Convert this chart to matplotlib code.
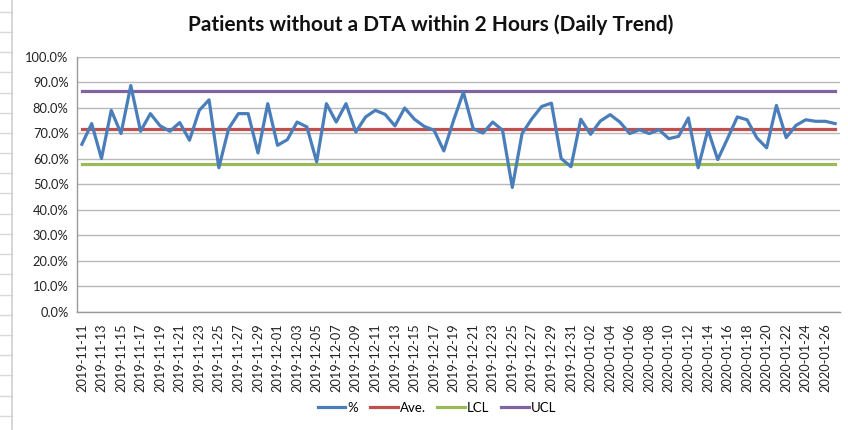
import matplotlib
matplotlib.use("Agg")
import matplotlib.pyplot as plt
from matplotlib.lines import Line2D
import pandas as pd
import numpy as np

dates = pd.date_range("2019-11-11", "2020-01-27", freq="D").strftime("%Y-%m-%d").tolist()
pct = [65.7, 73.8, 60.1, 79.0, 69.9, 88.7, 70.8, 77.7, 72.9, 70.8,
       74.2, 67.3, 79.0, 83.1, 56.5, 71.8, 77.7, 77.7, 62.3, 81.6,
       65.3, 67.5, 74.4, 72.5, 58.8, 81.6, 74.4, 81.6, 70.5, 76.4,
       79.0, 77.4, 72.9, 79.9, 75.5, 72.7, 71.2, 63.1, 75.1, 86.1,
       71.8, 70.1, 74.4, 71.2, 48.8, 69.9, 75.7, 80.5, 81.8, 60.1,
       56.9, 75.5, 69.6, 74.8, 77.3, 74.4, 69.9, 71.4, 69.9, 71.4,
       67.9, 68.8, 76.0, 56.5, 71.4, 59.7, 67.9, 76.4, 75.3, 68.2,
       64.3, 80.9, 68.3, 73.1, 75.3, 74.7, 74.7, 73.8]
ave = 71.8
lcl = 57.8
ucl = 86.4
title = "Patients without a DTA within 2 Hours (Daily Trend)"
series_names = ["%", "Ave.", "LCL", "UCL"]
colors = ["#4A7EBB", "#C0504D", "#9BBB59", "#8064A2"]

plt.rcParams['font.family'] = ['Lato', 'DejaVu Sans']

W, H = 848, 430
fig = plt.figure(figsize=(W / 100, H / 100), dpi=100)
fig.patch.set_facecolor("white")

# spreadsheet background hints on the left
for yy in np.arange(11.7, 430, 20.2):
    fig.add_artist(Line2D([0, 12 / W], [1 - yy / H, 1 - yy / H], color="#d9d9d9", lw=1,
                          transform=fig.transFigure))
fig.add_artist(Line2D([12.3 / W, 12.3 / W], [0, 1], color="#d0d0d0", lw=1.2,
                      transform=fig.transFigure))

left, right, top, bottom = 77 / W, 840 / W, 56.7 / H, 312 / H
ax = fig.add_axes([left, 1 - bottom, right - left, bottom - top])

x = np.arange(len(dates))
n = len(dates)
lw = 2.3
ax.plot(x, pct, color=colors[0], lw=lw, label=series_names[0], zorder=5)
ax.plot(x, [ave] * n, color=colors[1], lw=lw, label=series_names[1], zorder=4)
ax.plot(x, [lcl] * n, color=colors[2], lw=lw, label=series_names[2], zorder=4)
ax.plot(x, [ucl] * n, color=colors[3], lw=lw, label=series_names[3], zorder=4)

ax.set_xlim(-0.5, n - 0.5)
ax.set_ylim(0, 100)
ax.set_yticks(np.arange(0, 101, 10))
ax.set_yticklabels([f"{v:.1f}%" for v in np.arange(0, 101, 10)], fontsize=9.3)
ax.set_xticks(x[::2])
ax.set_xticklabels(dates[::2], rotation=90, fontsize=9.2)
ax.tick_params(axis="both", length=0, pad=6, colors="#222222")
ax.tick_params(axis="x", pad=8)
ax.grid(axis="y", color="#b8b8b8", lw=1)
ax.set_axisbelow(True)
for s in ["top", "right"]:
    ax.spines[s].set_visible(False)
for s in ["left", "bottom"]:
    ax.spines[s].set_color("#9a9a9a")
    ax.spines[s].set_linewidth(1)

fig.text(431 / W, 1 - 25 / H, title, ha="center", va="center", fontsize=15,
         fontweight="bold", color="#111111")

fig.legend(loc="center", bbox_to_anchor=(437 / W, 1 - 408 / H), ncol=4, frameon=False,
           fontsize=9.5, handlelength=2.1, handletextpad=0.15, columnspacing=0.9)

fig.savefig("out.png", dpi=100, facecolor="white")
